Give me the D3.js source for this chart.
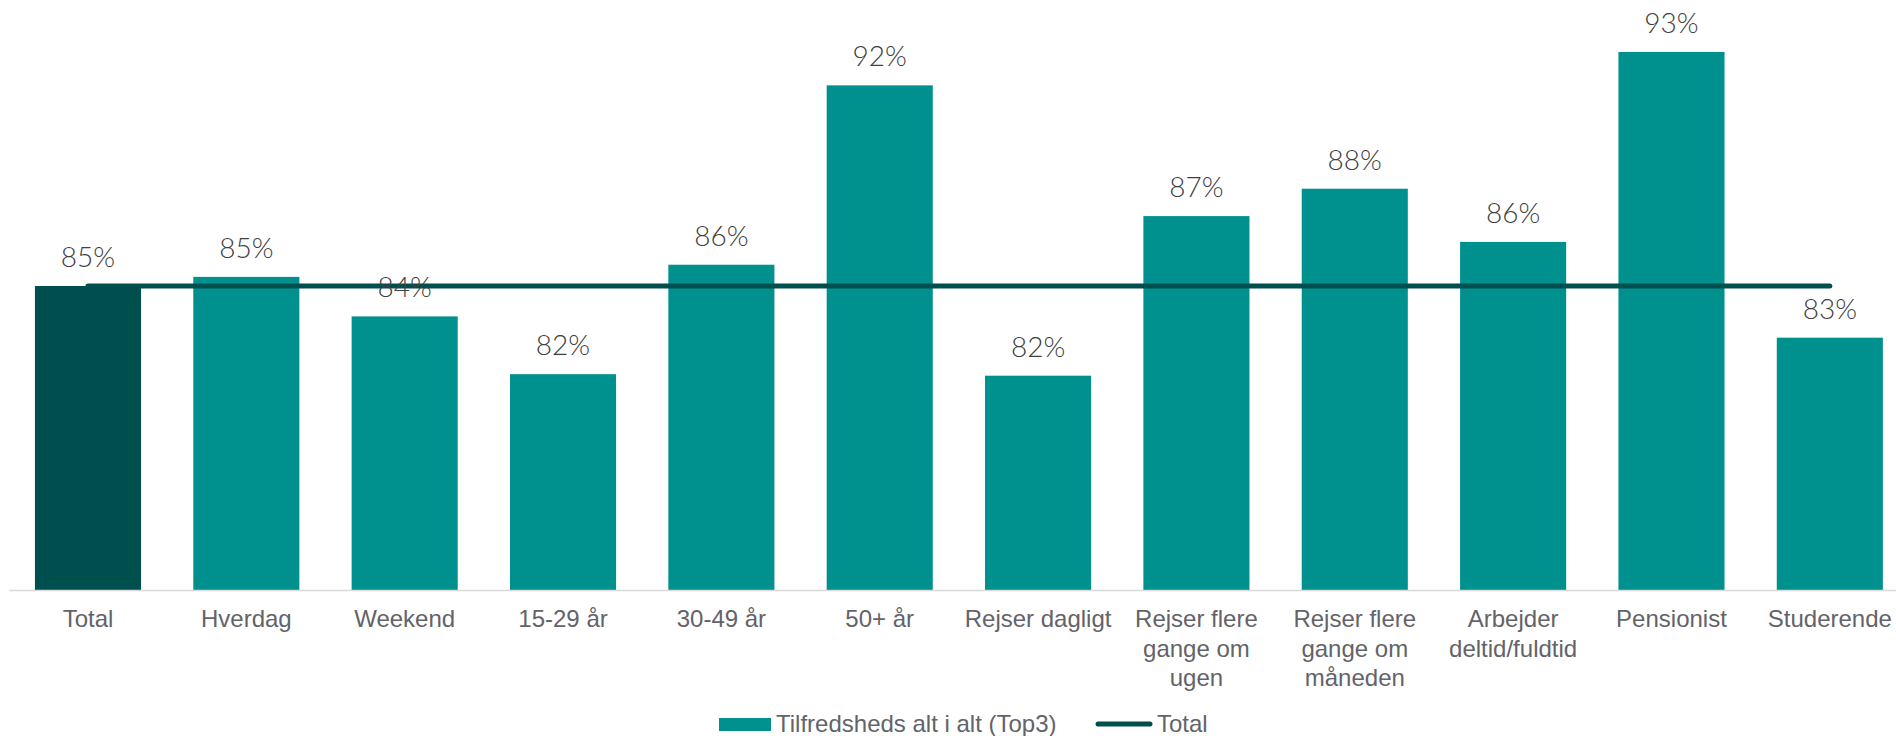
<!DOCTYPE html>
<html><head>
<meta charset="utf-8">
<title>Tilfredshed alt i alt</title>
<script src="https://d3js.org/d3.v7.min.js"></script>
<style>
  body { margin: 0; background: #fff; }
  .x.axis .domain { stroke: #d9d9d9; stroke-width: 1.5; }
  .x.axis text { font-family: "Liberation Sans", Arial, sans-serif; font-size: 24px; fill: #636369; }
  .value-label { font-family: Lato, "Open Sans", sans-serif; font-size: 28px; font-weight: 300; fill: #404040; }
  .legend text { font-family: "Liberation Sans", Arial, sans-serif; font-size: 24px; fill: #636369; }
</style>
</head>
<body>
<svg id="chart" width="1896" height="736"></svg>

<script>
  // categories and their axis labels (line breaks as Excel wraps them)
  const categories = ["Total", "Hverdag", "Weekend", "15-29 år", "30-49 år", "50+ år",
                      "Rejser dagligt", "Rejser flere gange om ugen", "Rejser flere gange om måneden",
                      "Arbejder deltid/fuldtid", "Pensionist", "Studerende"];
  const tickLines = [["Total"], ["Hverdag"], ["Weekend"], ["15-29 år"], ["30-49 år"], ["50+ år"],
                     ["Rejser dagligt"], ["Rejser flere", "gange om", "ugen"],
                     ["Rejser flere", "gange om", "måneden"], ["Arbejder", "deltid/fuldtid"],
                     ["Pensionist"], ["Studerende"]];

  // share satisfied overall (top 3 boxes)
  const satisfaction = [0.850, 0.853, 0.840, 0.821, 0.857, 0.916,
                        0.8205, 0.873, 0.882, 0.8645, 0.927, 0.833];
  // the overall average, drawn as a reference line
  const totalValue = 0.850;

  const legendLabels = ["Tilfredsheds alt i alt (Top3)", "Total"];

  const teal = "#00918e";
  const darkTeal = "#004f4f";

  const svg = d3.select("svg#chart");
  const baseline = 590;

  const x = d3.scaleBand()
    .domain(categories)
    .range([8.8, 1909])
    .paddingInner(0.33)
    .paddingOuter(0.165);

  const y = d3.scaleLinear()
    .domain([0.75, 0.94])
    .range([baseline, 12.4]);

  const pct = d3.format(".0%");

  // bars - the first one (Total) is darker
  svg.append("g").attr("class", "bars")
    .selectAll("rect")
    .data(satisfaction)
    .join("rect")
      .attr("x", (d, i) => x(categories[i]))
      .attr("y", d => y(d))
      .attr("width", x.bandwidth())
      .attr("height", d => baseline - y(d))
      .attr("fill", (d, i) => i === 0 ? darkTeal : teal);

  // category axis
  const axis = svg.append("g")
    .attr("class", "x axis")
    .attr("transform", "translate(0," + baseline + ")")
    .call(d3.axisBottom(x).tickSize(0).tickSizeOuter(0).tickPadding(0));

  axis.selectAll(".tick text")
    .attr("dy", null)
    .attr("y", 0)
    .each(function(d, i) {
      const t = d3.select(this).text(null);
      tickLines[i].forEach((line, j) => {
        t.append("tspan")
          .attr("x", 0)
          .attr("y", 37 + j * 29.5)
          .text(line);
      });
    });

  // total reference line from the first to the last category centre
  const first = categories[0], last = categories[categories.length - 1];
  svg.append("line")
    .attr("x1", x(first) + x.bandwidth() / 2)
    .attr("x2", x(last) + x.bandwidth() / 2)
    .attr("y1", y(totalValue))
    .attr("y2", y(totalValue))
    .attr("stroke", darkTeal)
    .attr("stroke-width", 5)
    .attr("stroke-linecap", "round");

  // value labels above each bar
  svg.append("g")
    .selectAll("text")
    .data(satisfaction)
    .join("text")
      .attr("class", "value-label")
      .attr("x", (d, i) => x(categories[i]) + x.bandwidth() / 2)
      .attr("y", d => y(d) - 19)
      .attr("text-anchor", "middle")
      .text(d => pct(d));

  // legend
  const legend = svg.append("g").attr("class", "legend");
  legend.append("rect")
    .attr("x", 719).attr("y", 718)
    .attr("width", 52).attr("height", 13)
    .attr("fill", teal);
  legend.append("text")
    .attr("x", 776).attr("y", 732)
    .text(legendLabels[0]);
  legend.append("line")
    .attr("x1", 1098).attr("x2", 1150)
    .attr("y1", 724).attr("y2", 724)
    .attr("stroke", darkTeal)
    .attr("stroke-width", 5)
    .attr("stroke-linecap", "round");
  legend.append("text")
    .attr("x", 1157).attr("y", 732)
    .text(legendLabels[1]);
</script>
</body>
</html>
